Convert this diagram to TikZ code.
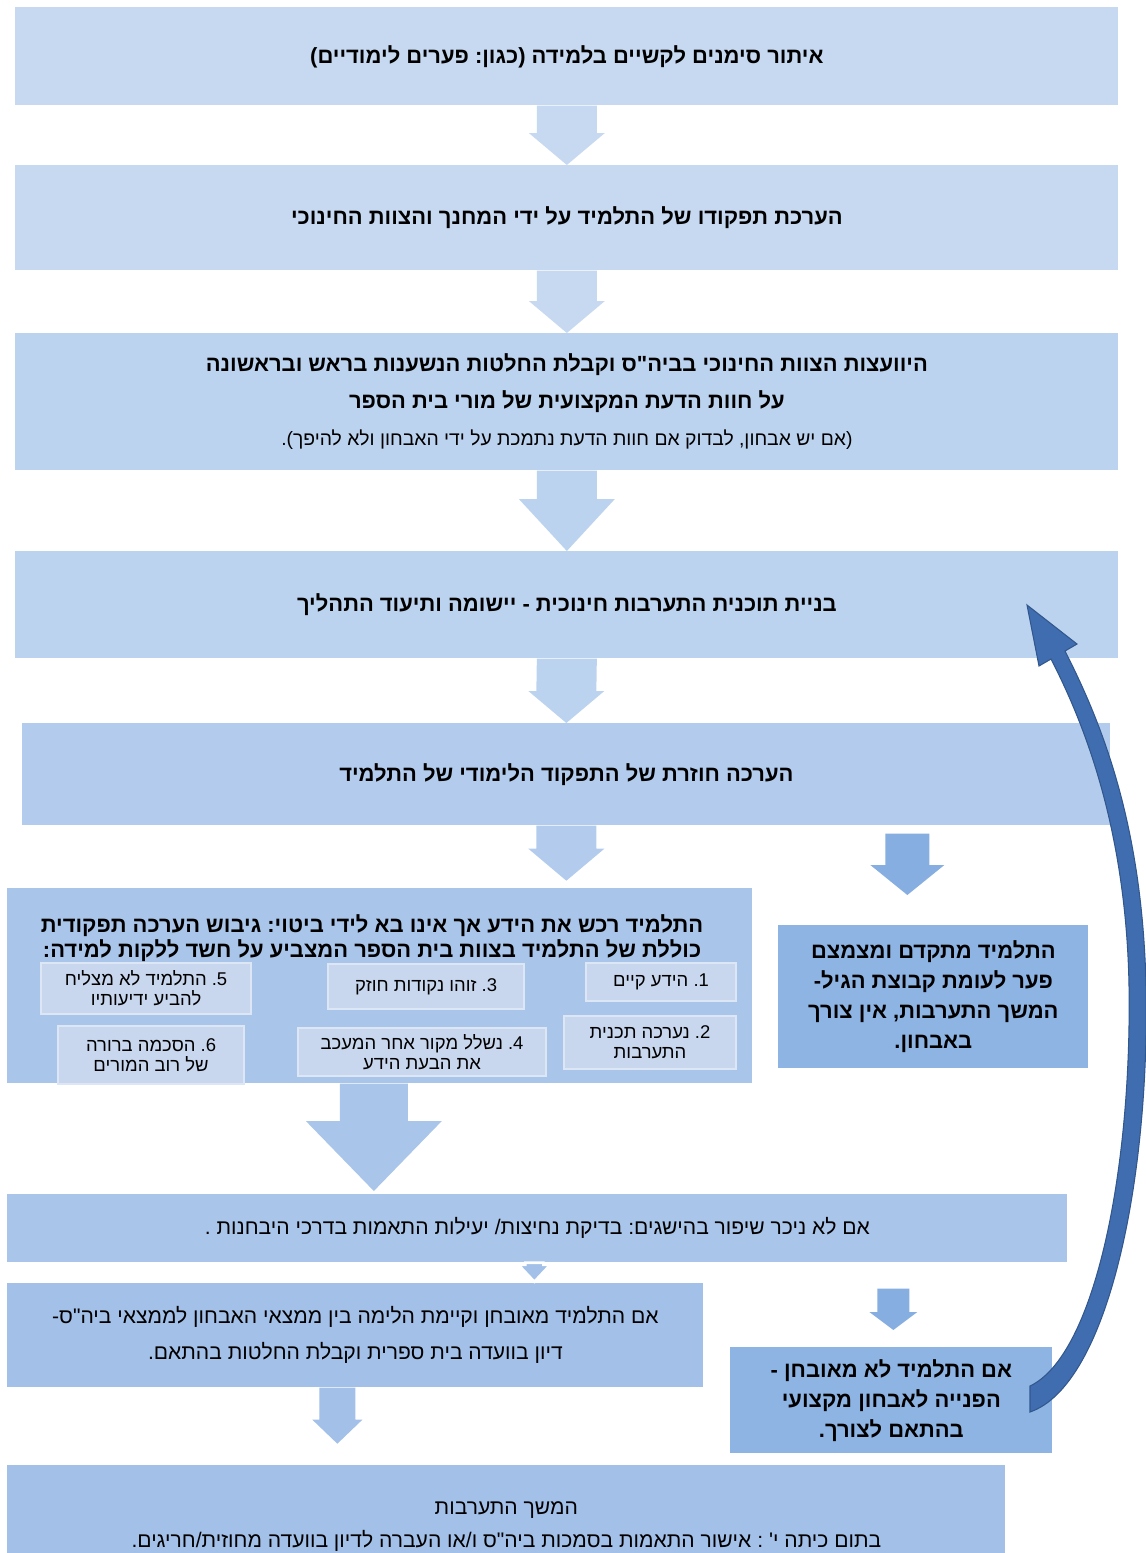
\documentclass[tikz,border=0pt]{standalone}
\usepackage{fontspec}
\setmainfont{Liberation Sans}
\newfontfamily\hebfont[Script=Hebrew]{Liberation Sans}
\TeXXeTstate=1
\frenchspacing
\usetikzlibrary{calc}

\definecolor{boxA}{HTML}{C6D9F1}
\definecolor{boxB}{HTML}{BCD3EF}
\definecolor{boxC}{HTML}{B3CCED}
\definecolor{boxD}{HTML}{A9C5EA}
\definecolor{boxE}{HTML}{A2C0E8}
\definecolor{sidebox}{HTML}{8EB4E3}
\definecolor{itemfill}{HTML}{C8D7EE}
\definecolor{itemline}{HTML}{DCE6F4}
\definecolor{sidearrow}{HTML}{86AEE0}
\definecolor{loopblue}{HTML}{3F6DB0}

\newcommand{\rtxt}[1]{\beginR#1\endR}
\newcommand{\pxl}{0.02cm}
% block arrow: style, top, tip, shaft half width, head half width, head length
\newcommand{\fatarrow}[6]{%
  \path[#1] ($(#2)+(-#4,0)$) -- ($(#2)+(#4,0)$) -- ($(#3)+(#4,-#6)$)
    -- ($(#3)+(#5,-#6)$) -- (#3) -- ($(#3)+(-#5,-#6)$) -- ($(#3)+(-#4,-#6)$) -- cycle;}

\tikzset{
  box/.style={rectangle, inner sep=0pt, anchor=north west, align=center,
    font={\hebfont\bfseries\fontsize{12.5}{21}\selectfont}},
  plainbox/.style={box, font={\hebfont\fontsize{12}{20.5}\selectfont}},
  sidebx/.style={box, fill=sidebox, font={\hebfont\bfseries\fontsize{12.5}{17}\selectfont}},
  itembox/.style={rectangle, inner sep=0pt, anchor=north west, align=center,
    fill=itemfill, draw=itemline, line width=1.2pt,
    font={\hebfont\fontsize{10.5}{11.5}\selectfont}},
  downarr/.style={fill=#1},
  downarr/.default=boxB,
  sidearr/.style={fill=sidearrow},
}

\begin{document}
\begin{tikzpicture}[x=0.02cm,y=-0.02cm]
  \useasboundingbox (0,0) rectangle (1146,1553);
  \fill[white] (0,0) rectangle (1146,1553);

  % main chain
  \node[box, fill=boxA, minimum width=1103*\pxl, minimum height=98*\pxl] (b1) at (15,7)
    {\rtxt{איתור סימנים לקשיים בלמידה (כגון: פערים לימודיים)}};
  \node[box, fill=boxA, minimum width=1103*\pxl, minimum height=105*\pxl] (b2) at (15,165)
    {\rtxt{הערכת תפקודו של התלמיד על ידי המחנך והצוות החינוכי}};
  \node[box, fill=boxB, minimum width=1103*\pxl, minimum height=137*\pxl] (b3) at (15,333)
    {\rtxt{היוועצות הצוות החינוכי בביה"ס וקבלת החלטות הנשענות בראש ובראשונה}\\
     \rtxt{על חוות הדעת המקצועית של מורי בית הספר}\\
     {\mdseries\fontsize{11}{12}\selectfont\rtxt{(אם יש אבחון, לבדוק אם חוות הדעת נתמכת על ידי האבחון ולא להיפך).}}};
  \node[box, fill=boxB, minimum width=1103*\pxl, minimum height=107*\pxl] (b4) at (15,551)
    {\rtxt{בניית תוכנית התערבות חינוכית - יישומה ותיעוד התהליך}};
  \node[box, fill=boxC, minimum width=1088*\pxl, minimum height=102*\pxl] (b5) at (22,723)
    {\rtxt{הערכה חוזרת של התפקוד הלימודי של התלמיד}};

  % findings
  \node[box, fill=boxD, minimum width=745*\pxl, minimum height=195*\pxl] (b6) at (7,888) {};
  \node[box, anchor=center, font={\hebfont\bfseries\fontsize{12.5}{14.5}\selectfont}] (b6t) at (372,938)
    {\rtxt{התלמיד רכש את הידע אך אינו בא לידי ביטוי: גיבוש הערכה תפקודית}\\
     \rtxt{כוללת של התלמיד בצוות בית הספר המצביע על חשד ללקות למידה:}};
  \node[itembox, minimum width=150*\pxl, minimum height=38*\pxl] (i1) at (585,962) {\rtxt{1. הידע קיים}};
  \node[itembox, minimum width=172*\pxl, minimum height=53*\pxl] (i2) at (563,1015) {\rtxt{2. נערכה תכנית}\\\rtxt{התערבות}};
  \node[itembox, minimum width=196*\pxl, minimum height=45*\pxl] (i3) at (327,963) {\rtxt{3. זוהו נקודות חוזק}};
  \node[itembox, minimum width=248*\pxl, minimum height=48*\pxl] (i4) at (297,1027) {\rtxt{4. נשלל מקור אחר המעכב}\\\rtxt{את הבעת הידע}};
  \node[itembox, minimum width=210*\pxl, minimum height=51*\pxl] (i5) at (40,962) {\rtxt{5. התלמיד לא מצליח}\\\rtxt{להביע ידיעותיו}};
  \node[itembox, minimum width=186*\pxl, minimum height=58*\pxl] (i6) at (57,1025) {\rtxt{6. הסכמה ברורה}\\\rtxt{של רוב המורים}};
  \node[sidebx, minimum width=310*\pxl, minimum height=143*\pxl] (b6r) at (778,925)
    {\rtxt{התלמיד מתקדם ומצמצם}\\\rtxt{פער לעומת קבוצת הגיל-}\\\rtxt{המשך התערבות, אין צורך}\\\rtxt{באבחון.}};

  \node[plainbox, fill=boxD, minimum width=1060*\pxl, minimum height=68*\pxl] (b7) at (7,1194)
    {\rtxt{אם לא ניכר שיפור בהישגים: בדיקת נחיצות/ יעילות התאמות בדרכי היבחנות .}};
  \node[plainbox, fill=boxE, minimum width=696*\pxl, minimum height=104*\pxl] (b8) at (7,1283)
    {\rtxt{אם התלמיד מאובחן וקיימת הלימה בין ממצאי האבחון לממצאי ביה"ס-}\\
     \rtxt{דיון בוועדה בית ספרית וקבלת החלטות בהתאם.}};
  \node[sidebx, minimum width=322*\pxl, minimum height=106*\pxl] (b8r) at (730,1347)
    {\rtxt{אם התלמיד לא מאובחן -}\\\rtxt{הפנייה לאבחון מקצועי}\\\rtxt{בהתאם לצורך.}};
  \node[plainbox, fill=boxE, minimum width=998*\pxl, minimum height=122*\pxl,
    font={\hebfont\fontsize{12}{18.5}\selectfont}] (b9) at (7,1465)
    {\rtxt{המשך התערבות}\\
     \rtxt{בתום כיתה י' : אישור התאמות בסמכות ביה"ס ו/או העברה לדיון בוועדה מחוזית/חריגים.}};

  % arrows
  \coordinate (a5end) at ($(b5.south)+(0,55)$);
  \coordinate (r5top) at ($(b5.south)+(341,8)$);
  \coordinate (r5tip) at ($(b6r.north)+(-26,-30)$);
  \coordinate (a6top) at ($(b6.south)+(-6,0)$);
  \coordinate (a6tip) at ($(a6top |- b7.north)+(0,-3)$);
  \coordinate (a7tip) at ($(b7.south)+(-3,19)$);
  \coordinate (a7top) at ($(b7.south)+(-3,0)$);
  \coordinate (r7top) at ($(b7.south)+(356,26)$);
  \coordinate (r7tip) at ($(b8r.north)+(2,-17)$);
  \coordinate (a8top) at ($(b8.south)+(-18,0)$);
  \coordinate (a8tip) at ($(a8top)+(0,56)$);

  \fatarrow{downarr=boxA}{b1.south}{b2.north}{30}{38}{32}
  \fatarrow{downarr=boxA}{b2.south}{b3.north}{30}{38}{32}
  \fatarrow{downarr=boxB}{b3.south}{b4.north}{30}{48}{52}
  \fatarrow{downarr=boxB}{b4.south}{b5.north}{30}{38}{32}
  \fatarrow{downarr=boxC}{b5.south}{a5end}{30}{38}{32}
  \fatarrow{sidearr}{r5top}{r5tip}{22}{37}{30}
  \fatarrow{downarr=boxD}{a6top}{a6tip}{34}{68}{70}
  \fatarrow{downarr=boxE, draw=white, line width=1.5pt}{a7top}{a7tip}{9}{16}{17}
  \fatarrow{sidearr}{r7top}{r7tip}{16}{24}{18}
  \fatarrow{downarr=boxE}{a8top}{a8tip}{18}{25}{24}

  % loop back to the intervention plan
  \fill[loopblue, draw=loopblue!80!black, line width=0.6pt]
    (1030,1412) .. controls (1108,1385) and (1150,1180) .. (1146,985)
    .. controls (1142,820) and (1100,720) .. (1065,651)
    -- (1077,644) -- (1027,605) -- (1039,666) -- (1051,659)
    .. controls (1085,725) and (1126,830) .. (1129,985)
    .. controls (1132,1170) and (1095,1355) .. (1030,1386) -- cycle;
\end{tikzpicture}
\end{document}
